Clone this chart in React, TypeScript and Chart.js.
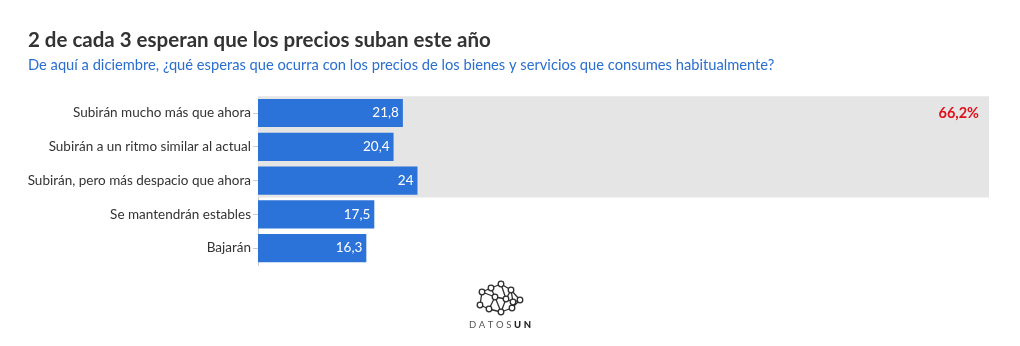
import React, { useEffect, useRef } from "react";
import { Chart, registerables } from "chart.js";

Chart.register(...registerables);

const categories = [
  "Subirán mucho más que ahora",
  "Subirán a un ritmo similar al actual",
  "Subirán, pero más despacio que ahora",
  "Se mantendrán estables",
  "Bajarán",
];
const values = [21.8, 20.4, 24, 17.5, 16.3];
// Rows grouped under the highlighted band (those expecting prices to rise)
const highlightRows = [0, 1, 2];

const TITLE = "2 de cada 3 esperan que los precios suban este año";
const SUBTITLE =
  "De aquí a diciembre, ¿qué esperas que ocurra con los precios de los bienes y servicios que consumes habitualmente?";

const FONT = "Lato, 'Noto Sans', sans-serif";
const BAR_COLOR = "#2b72d9";

const fmt = (v: number) => v.toLocaleString("es-ES", { maximumFractionDigits: 1 });

const highlightPlugin = {
  id: "highlightBand",
  beforeDatasetsDraw(chart: any) {
    const { ctx, chartArea, scales } = chart;
    const y = scales.y;
    const step = y.getPixelForValue(1) - y.getPixelForValue(0);
    const first = Math.min(...highlightRows);
    const last = Math.max(...highlightRows);
    const top = y.getPixelForValue(first) - step / 2;
    const bottom = y.getPixelForValue(last) + step / 2;
    ctx.save();
    ctx.fillStyle = "#e5e5e5";
    ctx.fillRect(chartArea.left, top, chartArea.right - chartArea.left, bottom - top);
    const total = highlightRows.reduce((s, i) => s + values[i], 0);
    ctx.fillStyle = "#e0101a";
    ctx.font = `bold 14.5px ${FONT}`;
    ctx.textAlign = "right";
    ctx.textBaseline = "middle";
    ctx.fillText(fmt(total) + "%", chartArea.right - 10, y.getPixelForValue(first));
    ctx.restore();
  },
};

const valueLabelPlugin = {
  id: "valueLabels",
  afterDatasetsDraw(chart: any) {
    const { ctx } = chart;
    const meta = chart.getDatasetMeta(0);
    ctx.save();
    ctx.fillStyle = "#ffffff";
    ctx.font = `13.5px ${FONT}`;
    ctx.textAlign = "right";
    ctx.textBaseline = "middle";
    meta.data.forEach((bar: any, i: number) => {
      ctx.fillText(fmt(values[i]), bar.x - 4, bar.y);
    });
    ctx.restore();
  },
};

const logoPlugin = {
  id: "logo",
  afterDraw(chart: any) {
    const { ctx } = chart;
    const cx = 500;
    const cy = 300;
    const nodes = [
      [-18, -8], [-9, -12], [1, -16], [11, -10], [20, 0], [12, 8], [1, 12], [-11, 9], [-20, 5], [-5, -3], [6, -1], [13, 2],
    ];
    const links = [
      [0, 1], [1, 2], [2, 3], [3, 4], [4, 5], [5, 6], [6, 7], [7, 8], [8, 0], [1, 9], [9, 10], [10, 3], [9, 7],
      [10, 11], [11, 4], [11, 5], [9, 6], [2, 10], [0, 9], [3, 11], [10, 6],
    ];
    ctx.save();
    ctx.strokeStyle = "#2e2e2e";
    ctx.lineWidth = 1.3;
    links.forEach(([a, b]) => {
      ctx.beginPath();
      ctx.moveTo(cx + nodes[a][0], cy + nodes[a][1]);
      ctx.lineTo(cx + nodes[b][0], cy + nodes[b][1]);
      ctx.stroke();
    });
    nodes.forEach(([x, y]) => {
      ctx.beginPath();
      ctx.arc(cx + x, cy + y, 2.8, 0, Math.PI * 2);
      ctx.fillStyle = "#fff";
      ctx.fill();
      ctx.stroke();
    });
    ctx.textBaseline = "middle";
    const spacing = 2.6;
    const fa = `9.5px ${FONT}`;
    const fb = `900 9.5px ${FONT}`;
    const measure = (s: string, f: string) => {
      ctx.font = f;
      let w = 0;
      for (const ch of s) w += ctx.measureText(ch).width + spacing;
      return w;
    };
    const a = "DATOS";
    const b = "UN";
    const total = measure(a, fa) + measure(b, fb) - spacing;
    let x = cx - total / 2;
    ctx.textAlign = "left";
    ctx.font = fa;
    ctx.fillStyle = "#555";
    for (const ch of a) {
      ctx.fillText(ch, x, 325);
      x += ctx.measureText(ch).width + spacing;
    }
    ctx.font = fb;
    ctx.fillStyle = "#222";
    for (const ch of b) {
      ctx.fillText(ch, x, 325);
      x += ctx.measureText(ch).width + spacing;
    }
    ctx.restore();
  },
};

export default function App() {
  const ref = useRef<HTMLCanvasElement | null>(null);

  useEffect(() => {
    document.body.style.margin = "0";
    const canvas = ref.current;
    if (!canvas) return;
    const chart = new Chart(canvas, {
      type: "bar",
      data: {
        labels: categories,
        datasets: [
          {
            data: values,
            backgroundColor: BAR_COLOR,
            barPercentage: 0.83,
            categoryPercentage: 1,
          },
        ],
      },
      options: {
        indexAxis: "y",
        animation: false,
        responsive: false,
        maintainAspectRatio: false,
        layout: { padding: { left: 28, right: 31, top: 0, bottom: 81 } },
        plugins: {
          legend: { display: false },
          tooltip: { enabled: false },
          title: {
            display: true,
            text: TITLE,
            align: "start",
            color: "#333333",
            font: { family: FONT, size: 20.5, weight: "bold" },
            padding: { top: 28, bottom: 4 },
          },
          subtitle: {
            display: true,
            text: SUBTITLE,
            align: "start",
            color: "#2a6fd0",
            font: { family: FONT, size: 14.7 },
            padding: { top: 0, bottom: 22 },
          },
        },
        scales: {
          x: {
            display: false,
            min: 0,
            max: 110,
          },
          y: {
            afterFit(scale: any) {
              scale.width = 230;
            },
            grid: {
              display: true,
              offset: false,
              drawOnChartArea: false,
              drawTicks: true,
              tickLength: 5,
              color: "#cccccc",
            },
            border: { display: true, color: "#cccccc" },
            ticks: {
              color: "#333333",
              padding: 2,
              font: { family: FONT, size: 13.5 },
            },
          },
        },
      },
      plugins: [highlightPlugin, valueLabelPlugin, logoPlugin],
    });
    return () => chart.destroy();
  }, []);

  return (
    <div style={{ width: 1020, height: 346 }}>
      <canvas ref={ref} width={1020} height={346} style={{ display: "block" }} />
    </div>
  );
}
